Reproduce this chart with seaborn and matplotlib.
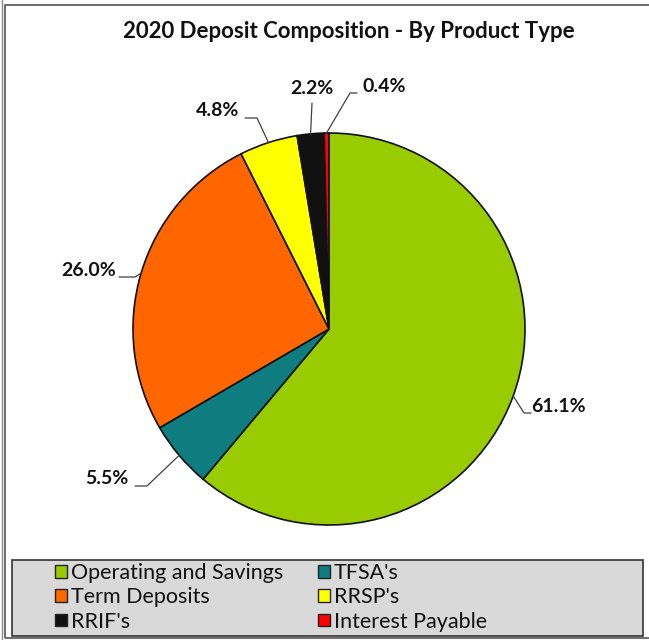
import matplotlib
matplotlib.use("Agg")
import matplotlib.pyplot as plt
import matplotlib.patches as mpatches
import seaborn as sns
import numpy as np

# === data ===
products = ["Operating and Savings", "TFSA's", "Term Deposits", "RRSP's", "RRIF's", "Interest Payable"]
shares = [61.1, 5.5, 26.0, 4.8, 2.2, 0.4]
colours = ["#99CC00", "#0F7C80", "#FF6600", "#FFFF00", "#111111", "#FF0000"]
title = "2020 Deposit Composition - By Product Type"

# label layout (pixel positions, y measured from top): text centre, leader path near the text
label_text_pos = [(558, 407), (107, 478), (89, 271), (218, 111), (312, 88), (384, 87)]
label_leader = [[(531, 413), (524, 413)],
                [(135, 486), (147, 486)],
                [(119, 277), (135, 277)],
                [(245, 118), (257, 118)],
                [(312, 103)],
                [(357, 93), (350, 93)]]

sns.set_theme(style="white")
plt.rcParams["font.family"] = ["Lato", "DejaVu Sans"]

W, H = 649, 640
fig = plt.figure(figsize=(W / 100, H / 100), dpi=100)
ax = fig.add_axes([0, 0, 1, 1])

cx, cy, r = 329, H - 329, 196
pal = sns.color_palette(colours)
wedges, _ = ax.pie(shares, colors=pal, startangle=90, counterclock=False,
                   center=(cx, cy), radius=r, frame=True,
                   wedgeprops=dict(edgecolor="#111111", linewidth=1.2))
ax.set_xlim(0, W)
ax.set_ylim(0, H)
ax.set_aspect("equal")
ax.set_axis_off()

# labels with leader lines from the wedge middle
for w, val, (tx, ty), path in zip(wedges, shares, label_text_pos, label_leader):
    ang = np.deg2rad((w.theta1 + w.theta2) / 2)
    ex, ey = cx + r * np.cos(ang), cy + r * np.sin(ang)
    pts = [(x, H - y) for x, y in path] + [(ex, ey)]
    ax.plot([p[0] for p in pts], [p[1] for p in pts], color="#404040", lw=0.9)
    ax.text(tx, H - ty, f"{val:.1f}%", ha="center", va="center",
            fontsize=14, fontweight="bold", color="#111111")

ax.text(349, H - 32, title, ha="center", va="center", fontsize=16,
        fontweight="bold", color="#111111")

# outer frame
ax.add_patch(mpatches.Rectangle((5, 2), W + 10, H - 7, fill=False,
                                edgecolor="#555555", lw=1.2, clip_on=False))
ax.plot([1.5, 1.5], [0, H], color="#888888", lw=1)

# legend box
ax.add_patch(mpatches.Rectangle((12, H - 636), 631, 76, facecolor="#D9D9D9",
                                edgecolor="#333333", lw=1.2))
order = [0, 2, 4, 1, 3, 5]
handles = [mpatches.Patch(facecolor=pal[i], edgecolor="#222222", lw=1,
                          label=products[i]) for i in order]
ax.legend(handles=handles, ncol=2, frameon=False, loc="upper left",
          bbox_to_anchor=(55 / W, (H - 563) / H), fontsize=15.5,
          handlelength=0.55, handleheight=0.55, handletextpad=0.2,
          columnspacing=1.6, labelspacing=0.2, borderpad=0,
          borderaxespad=0, labelcolor="#111111")

fig.savefig("out.png", dpi=100)
